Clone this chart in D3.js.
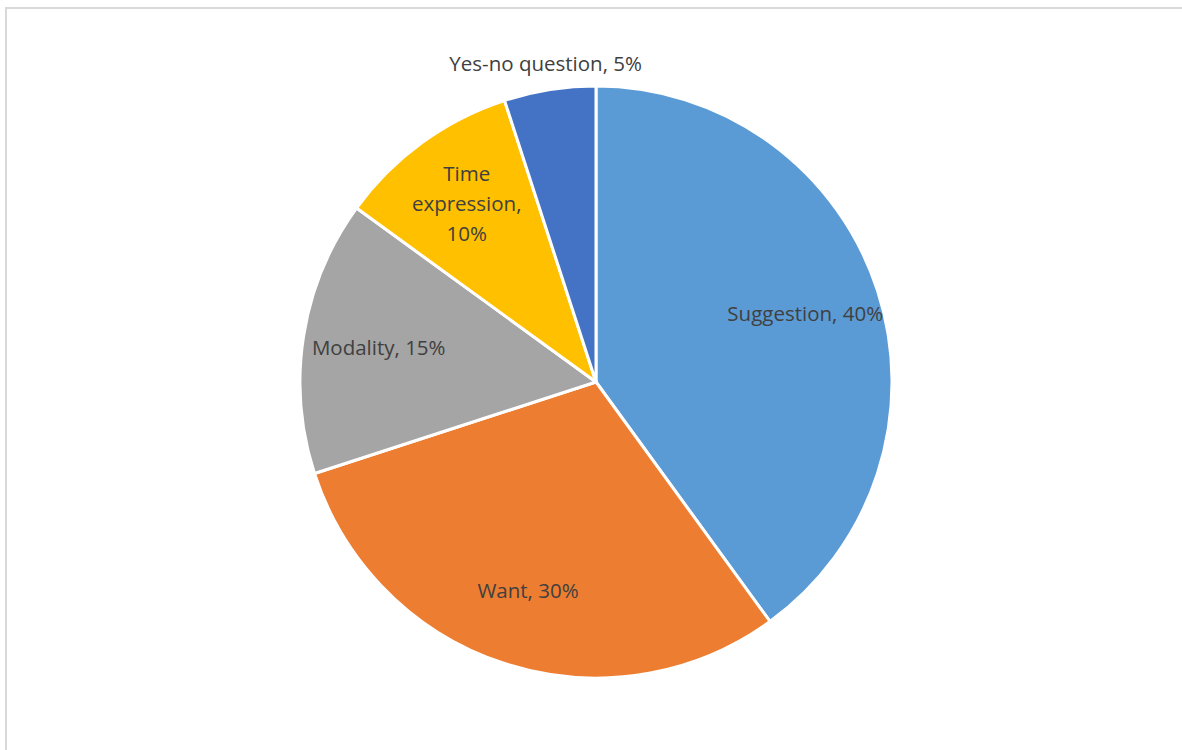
<!DOCTYPE html>
<html>
<head>
<meta charset="utf-8">
<script src="https://cdn.jsdelivr.net/npm/d3@7"></script>
<style>
  body { margin: 0; background: #fff; }
  .lbl { font-family: "Open Sans", sans-serif; font-size: 20.5px; fill: #404040; }
</style>
</head>
<body>
<div id="chart"></div>
<script>
// chart data
var categories = ["Suggestion", "Want", "Modality", "Time expression", "Yes-no question"];
var values = [40, 30, 15, 10, 5];
var labelLines = [
  ["Suggestion, 40%"],
  ["Want, 30%"],
  ["Modality, 15%"],
  ["Time", "expression,", "10%"],
  ["Yes-no question, 5%"]
];
var colors = ["#5B9BD5", "#ED7D31", "#A5A5A5", "#FFC000", "#4472C4"];

var svgWidth = 1182;
var svgHeight = 750;
var cx = 596, cy = 382, radius = 296;

var svg = d3.select("#chart")
  .append("svg")
  .attr("width", svgWidth)
  .attr("height", svgHeight);

// chart area border
svg.append("rect")
  .attr("x", 6)
  .attr("y", 8)
  .attr("width", 1200)
  .attr("height", 800)
  .attr("fill", "none")
  .attr("stroke", "#d9d9d9")
  .attr("stroke-width", 2);

var pie = d3.pie().sort(null).value(d => d);
var arcs = pie(values);

var arc = d3.arc().innerRadius(0).outerRadius(radius);
var inLabel = d3.arc().innerRadius(220).outerRadius(220);
var outLabel = d3.arc().innerRadius(radius + 26).outerRadius(radius + 26);

var g = svg.append("g")
  .attr("transform", `translate(${cx}, ${cy})`);

g.selectAll("path")
  .data(arcs)
  .enter()
  .append("path")
  .attr("d", arc)
  .attr("fill", (d, i) => colors[i])
  .attr("stroke", "#fff")
  .attr("stroke-width", 3)
  .attr("stroke-linejoin", "round");

// labels, the smallest slice gets its label outside
var lineH = 30;
g.selectAll("text.lbl")
  .data(arcs)
  .enter()
  .append("text")
  .attr("class", "lbl")
  .attr("text-anchor", "middle")
  .each(function (d, i) {
    var pos = (d.value < 8 ? outLabel : inLabel).centroid(d);
    var lines = labelLines[i];
    var t = d3.select(this);
    lines.forEach(function (line, k) {
      t.append("tspan")
        .attr("x", pos[0])
        .attr("y", pos[1] + (k - (lines.length - 1) / 2) * lineH)
        .attr("dy", "0.35em")
        .text(line);
    });
  });
</script>
</body>
</html>
